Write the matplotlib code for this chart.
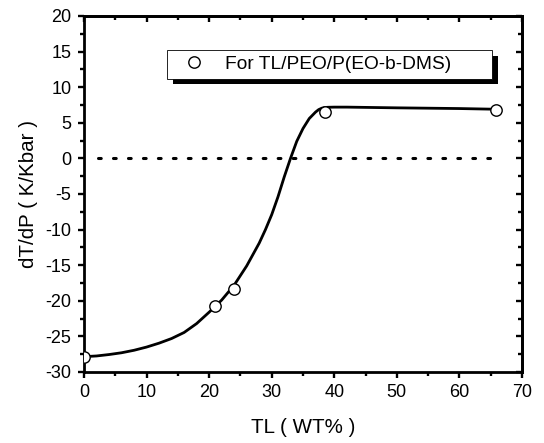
import matplotlib
matplotlib.use("Agg")
import matplotlib.pyplot as plt
from matplotlib.ticker import MultipleLocator
import matplotlib.patheffects as pe

plt.rcParams['font.family'] = ['Liberation Sans', 'DejaVu Sans']
plt.rcParams['axes.unicode_minus'] = False

# measured points
tl_wt = [0, 20.9, 24.0, 38.5, 65.8]
dtdp = [-27.85, -20.7, -18.4, 6.5, 6.75]

# fitted curve
curve_x = [0, 2, 4, 6, 8, 10, 12, 14, 16, 18, 20, 22, 24, 26, 28, 29, 30, 31,
           32, 33, 34, 35, 36, 37, 37.5, 38, 38.5, 39, 40, 42, 46, 50, 55, 60, 66]
curve_y = [-27.85, -27.75, -27.55, -27.3, -26.95, -26.5, -25.95, -25.3, -24.45,
           -23.2, -21.6, -19.9, -17.8, -15.1, -11.9, -10.0, -7.9, -5.4, -2.6,
           0.0, 2.4, 4.2, 5.6, 6.5, 6.85, 7.05, 7.15, 7.18, 7.2, 7.2, 7.15, 7.1,
           7.05, 7.0, 6.9]

# zero reference line
zero_x = [2.2, 66.8]
zero_y = [0, 0]

x_limits = (0, 70)
y_limits = (-30, 20)

fig = plt.figure(figsize=(5.44, 4.43), dpi=100)
ax = fig.add_axes([0.1544, 0.1603, 0.8052, 0.8036])

ax.plot(zero_x, zero_y, color='black', lw=2.2, linestyle=(0, (0.9, 4.0)),
        dash_capstyle='round')
ax.plot(curve_x, curve_y, color='black', lw=2.0, solid_joinstyle='round',
        solid_capstyle='round')
ax.plot(tl_wt, dtdp, linestyle='none', marker='o', ms=8.2, mfc='white',
        mec='black', mew=1.0, label='For TL/PEO/P(EO-b-DMS)', zorder=5)

ax.set_xlim(*x_limits)
ax.set_ylim(*y_limits)

def style_ticks(a, axis, direction):
    obj = a.xaxis if axis == 'x' else a.yaxis
    obj.set_major_locator(MultipleLocator(10 if axis == 'x' else 5))
    obj.set_minor_locator(MultipleLocator(5 if axis == 'x' else 2.5))
    a.tick_params(axis=axis, which='major', direction=direction, length=4.6, width=1.7)
    a.tick_params(axis=axis, which='minor', direction=direction, length=2.6, width=1.7)

style_ticks(ax, 'x', 'out')
style_ticks(ax, 'y', 'out')
ax.tick_params(axis='both', labelsize=13)
ax.tick_params(axis='x', which='major', pad=4.2)
ax.tick_params(axis='y', which='major', pad=4.5)

top = ax.secondary_xaxis('top')
style_ticks(top, 'x', 'in')
top.tick_params(axis='x', which='both', labeltop=False)
right = ax.secondary_yaxis('right')
style_ticks(right, 'y', 'in')
right.tick_params(axis='y', which='both', labelright=False)

for a in (ax, top, right):
    for s in a.spines.values():
        s.set_linewidth(2.0)

ax.set_xlabel('TL ( WT% )', fontsize=14.8, labelpad=12)
ax.set_ylabel('dT/dP ( K/Kbar )', fontsize=14.8, labelpad=5)

leg = ax.legend(loc='upper left', bbox_to_anchor=(0.1895, 0.820, 0.742, 0.0845),
                mode='expand', fontsize=13.8, frameon=True, fancybox=False,
                shadow=False, framealpha=1.0, borderpad=0.3,
                handletextpad=0.55, handlelength=2.2, borderaxespad=0)
frame = leg.get_frame()
frame.set_edgecolor('black')
frame.set_facecolor('white')
frame.set_linewidth(0.6)
frame.set_path_effects([pe.SimplePatchShadow(offset=(4, -4), shadow_rgbFace='black', alpha=1.0),
                        pe.Normal()])

fig.savefig('out.png', dpi=100)
